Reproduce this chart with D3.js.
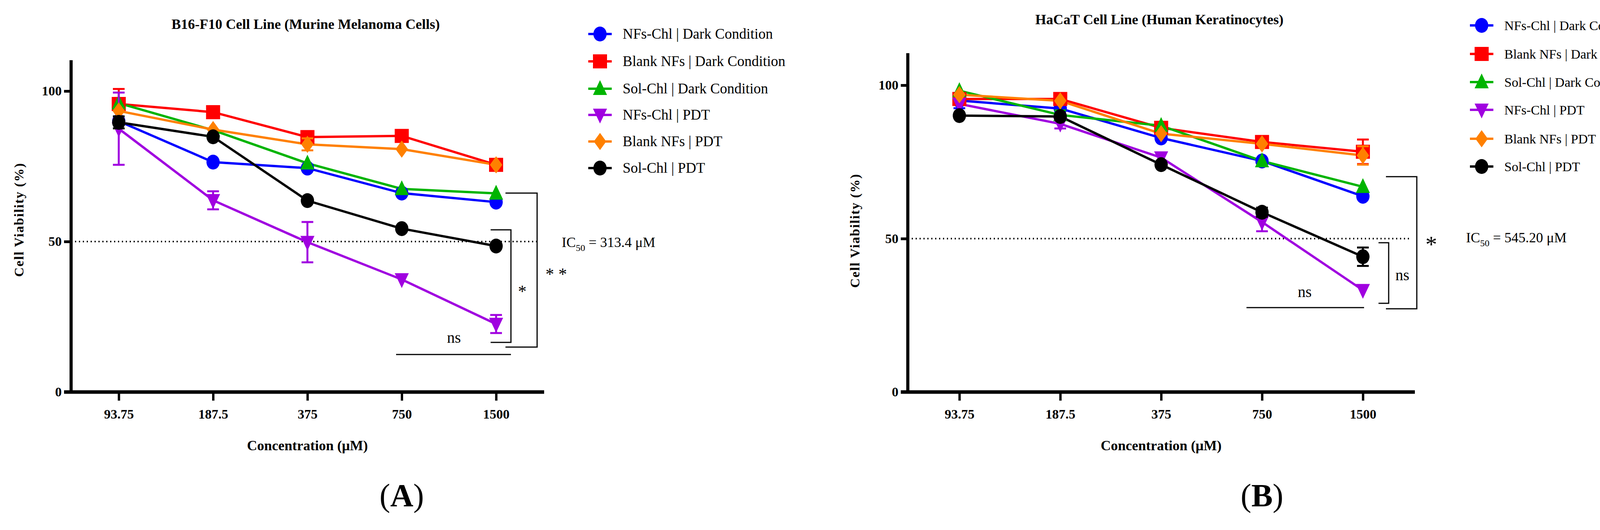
<!DOCTYPE html>
<html><head><meta charset="utf-8">
<script src="https://d3js.org/d3.v7.min.js"></script>
<style>body{margin:0;background:#fff}text{font-family:"Liberation Serif","DejaVu Serif",serif}</style>
</head><body>
<svg id="chart" width="4376" height="1356"></svg>
<script>
  var concentrations = ['93.75', '187.5', '375', '750', '1500']
  var seriesNames = ['NFs-Chl | Dark Condition', 'Blank NFs | Dark Condition', 'Sol-Chl | Dark Condition', 'NFs-Chl | PDT', 'Blank NFs | PDT', 'Sol-Chl | PDT']
  var colors = ['#0000ff', '#ff0000', '#00b400', '#a000e0', '#ff8000', '#000000']
  var symbols = ['circle', 'square', 'triangle', 'down', 'diamond', 'circle']

  // panel A values (% viability)
  var valuesA = [
    [90, 76.4, 74.4, 66.1, 63.1],
    [95.7, 93, 84.7, 85.1, 75.5],
    [96, 87, 76, 67.5, 66],
    [87.5, 63.7, 49.8, 37.4, 22.6],
    [93.4, 87.2, 82.3, 80.7, 75.5],
    [89.6, 84.8, 63.6, 54.3, 48.5]
  ]
  var errorsA = [
    [1, 1, 1, 1, 1],
    [5, 1, 1, 1, 1],
    [1, 1, 1, 1, 1],
    [12, 3, 6.7, 1, 3],
    [1, 1, 2, 1, 1],
    [2, 1, 1, 1, 1]
  ]
  // panel B values
  var valuesB = [
    [95, 92.4, 82.8, 75.3, 63.8],
    [95.5, 95.5, 86.1, 81.5, 78.3],
    [98.2, 90.3, 86.8, 75.3, 66.9],
    [93.9, 87.4, 76.4, 55.4, 33.2],
    [96.9, 94.9, 84.2, 80.9, 77.1],
    [90.1, 89.8, 74.1, 58.6, 44.1]
  ]
  var errorsB = [
    [2.5, 1, 1, 1, 1],
    [1, 1, 1, 1, 4],
    [1, 1.5, 1, 1, 1],
    [1, 1.5, 1, 3, 1],
    [1, 1, 1, 1, 3],
    [1, 1, 1, 1.5, 3]
  ]

  var svg = d3.select('#chart')

  function marker(g, type, color, x, y) {
    var s = 18
    if (type === 'circle') {
      g.append('ellipse').attr('cx', x).attr('cy', y).attr('rx', 17).attr('ry', 19).attr('fill', color)
    } else {
      var pts
      if (type === 'square') pts = [[-s, -s], [s, -s], [s, s], [-s, s]]
      if (type === 'triangle') pts = [[0, -s - 4], [s, s - 2], [-s, s - 2]]
      if (type === 'down') pts = [[-s, -s + 2], [s, -s + 2], [0, s + 4]]
      if (type === 'diamond') pts = [[0, -s - 4], [s - 2, 0], [0, s + 4], [-s + 2, 0]]
      g.append('polygon').attr('points', pts.map(function (p) {return (x + p[0]) + ',' + (y + p[1])}).join(' ')).attr('fill', color)
    }
  }

  function panel(o) {
    var g = svg.append('g')
    var x = d3.scalePoint().domain(concentrations).range([o.x0 + o.pad, o.x1 - o.padR])
    var y = d3.scaleLinear().domain([0, 100]).range([1003, o.y100])

    // y axis
    var yAx = g.append('g').attr('transform', 'translate(' + o.x0 + ',0)')
      .call(d3.axisLeft(y).tickValues([0, 50, 100]).tickSize(18).tickPadding(6))
    yAx.select('.domain').remove()
    yAx.append('line').attr('x1', 0).attr('x2', 0).attr('y1', 1003).attr('y2', o.yTop).attr('stroke', '#000').attr('stroke-width', 8)
    yAx.selectAll('.tick line').attr('stroke-width', 7)
    yAx.selectAll('.tick text').style('font-size', '34px').style('font-weight', 'bold').style('font-family', '"Liberation Serif",serif').attr('fill', '#000')

    var xAx = g.append('g').attr('transform', 'translate(0,1003)')
      .call(d3.axisBottom(x).tickSize(22).tickPadding(22))
    xAx.select('.domain').remove()
    xAx.append('line').attr('x1', o.x0 - 18).attr('x2', o.x1).attr('stroke', '#000').attr('stroke-width', 9)
    xAx.selectAll('.tick line').attr('stroke-width', 6)
    xAx.selectAll('.tick text').style('font-size', '34px').style('font-weight', 'bold').style('font-family', '"Liberation Serif",serif').attr('fill', '#000')

    // dotted 50 line
    g.append('line').attr('x1', o.x0).attr('x2', o.dotEnd).attr('y1', y(50)).attr('y2', y(50))
      .attr('stroke', '#000').attr('stroke-width', 4).attr('stroke-dasharray', '3,7')

    // series
    o.values.forEach(function (vals, si) {
      var line = d3.line().x(function (d, i) {return x(concentrations[i])}).y(function (d) {return y(d)})
      g.append('path').datum(vals).attr('d', line).attr('fill', 'none').attr('stroke', colors[si]).attr('stroke-width', 6)
    })
    o.values.forEach(function (vals, si) {
      vals.forEach(function (v, i) {
        var e = o.errors[si][i], cx = x(concentrations[i])
        if (e > 1.2) {
          g.append('line').attr('x1', cx).attr('x2', cx).attr('y1', y(v - e)).attr('y2', y(v + e)).attr('stroke', colors[si]).attr('stroke-width', 5)
          ;[v - e, v + e].forEach(function (t) {
            g.append('line').attr('x1', cx - 15).attr('x2', cx + 15).attr('y1', y(t)).attr('y2', y(t)).attr('stroke', colors[si]).attr('stroke-width', 5)
          })
        }
        marker(g, symbols[si], colors[si], cx, y(v))
      })
    })

    // brackets
    o.brackets.forEach(function (b) {
      g.append('path').attr('d', b).attr('fill', 'none').attr('stroke', '#000').attr('stroke-width', 3)
    })
    o.notes.forEach(function (n) {
      g.append('text').attr('x', n[0]).attr('y', n[1]).attr('text-anchor', 'middle').style('font-size', n[3] + 'px').text(n[2])
    })

    // IC50
    var ic = g.append('text').attr('x', o.icX).attr('y', o.icY).style('font-size', '36px')
    ic.append('tspan').text('IC')
    ic.append('tspan').attr('dy', 10).style('font-size', '24px').text('50')
    ic.append('tspan').attr('dy', -10).text(' = ' + o.icText)

    // titles
    g.append('text').attr('x', (o.x0 + o.x1) / 2 - 5).attr('y', o.titleY).attr('text-anchor', 'middle')
      .style('font-size', '36px').style('font-weight', 'bold').text(o.title)
    g.append('text').attr('x', (x('375'))).attr('y', 1152).attr('text-anchor', 'middle')
      .style('font-size', '36px').style('font-weight', 'bold').text('Concentration (μM)')
    g.append('text').attr('transform', 'translate(' + o.yLabX + ',' + o.yLabY + ') rotate(-90)').attr('text-anchor', 'middle')
      .style('font-size', '34px').style('font-weight', 'bold').style('letter-spacing', '2px').text('Cell Viability (%)')
    var pl = g.append('text').attr('x', x('750')).attr('y', 1295).attr('text-anchor', 'middle').style('font-size', '82px')
    pl.append('tspan').text('(')
    pl.append('tspan').style('font-weight', 'bold').text(o.letter)
    pl.append('tspan').text(')')

    // legend
    seriesNames.forEach(function (name, i) {
      var ly = o.legY[i]
      g.append('line').attr('x1', o.legX - 30).attr('x2', o.legX + 30).attr('y1', ly).attr('y2', ly).attr('stroke', colors[i]).attr('stroke-width', 6)
      marker(g, symbols[i], colors[i], o.legX, ly)
      g.append('text').attr('x', o.legX + 58).attr('y', ly + 12).style('font-size', o.legFont + 'px').text(name)
    })
  }

  panel({
    x0: 182, x1: 1393, pad: 122, padR: 123, y100: 233, yTop: 154, dotEnd: 1382,
    values: valuesA, errors: errorsA, title: 'B16-F10 Cell Line (Murine Melanoma Cells)', titleY: 74,
    icX: 1438, icY: 632, icText: '313.4 μM', letter: 'A', yLabX: 60, yLabY: 562,
    legX: 1536, legY: [87, 157, 227, 294, 362, 430], legFont: 37,
    brackets: ['M1014,907 H1308', 'M1256,588 H1308 V876 H1256', 'M1294,494 H1375 V888 H1294'],
    notes: [[1162, 877, 'ns', 40], [1337, 760, '*', 44], [1424, 716, '* *', 44]]
  })
  panel({
    x0: 2324, x1: 3622, pad: 132, padR: 133, y100: 218, yTop: 136, dotEnd: 3611,
    values: valuesB, errors: errorsB, title: 'HaCaT Cell Line (Human Keratinocytes)', titleY: 62,
    icX: 3753, icY: 620, icText: '545.20 μM', letter: 'B', yLabX: 2200, yLabY: 590,
    legX: 3793, legY: [65, 138, 210, 281, 355, 426], legFont: 34,
    brackets: ['M3191,787 H3492', 'M3529,621 H3555 V776 H3529', 'M3548,452 H3627 V790 H3548'],
    notes: [[3340, 760, 'ns', 40], [3590, 717, 'ns', 40], [3664, 645, '*', 60]]
  })
</script>
</body></html>
